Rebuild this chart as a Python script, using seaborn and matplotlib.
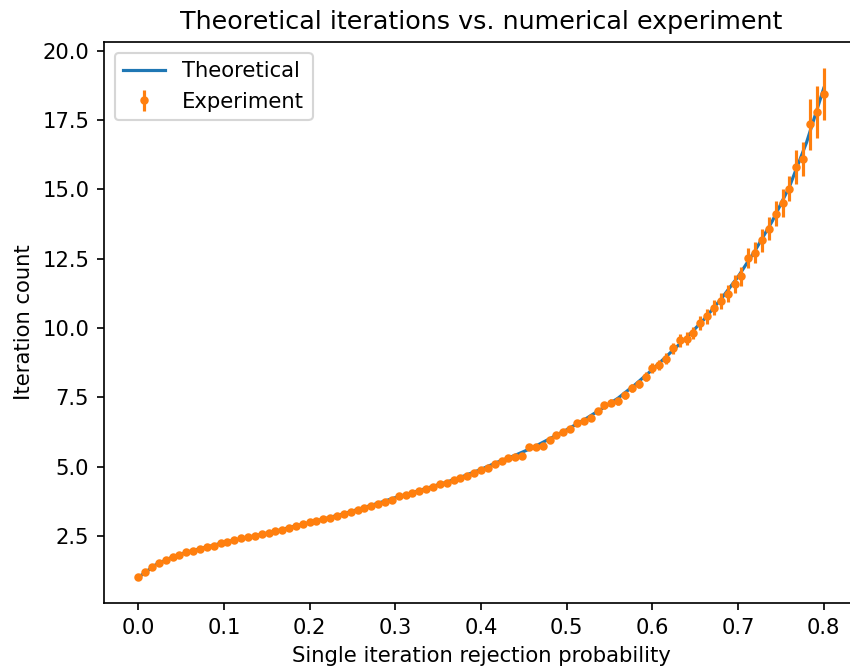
import matplotlib
matplotlib.use("Agg")
import matplotlib.pyplot as plt
import seaborn as sns
import pandas as pd

# Theoretical curve
p_theory = [0.00, 0.02, 0.04, 0.06, 0.08, 0.10, 0.12, 0.14, 0.16, 0.18,
            0.20, 0.22, 0.24, 0.26, 0.28, 0.30, 0.32, 0.34, 0.36, 0.38,
            0.40, 0.42, 0.44, 0.46, 0.48, 0.50, 0.52, 0.54, 0.56, 0.58,
            0.60, 0.62, 0.64, 0.66, 0.68, 0.70, 0.72, 0.74, 0.76, 0.78, 0.80]
iter_theory = [1.00, 1.45, 1.74, 1.94, 2.10, 2.26, 2.40, 2.53, 2.67, 2.83,
               2.98, 3.14, 3.30, 3.49, 3.68, 3.88, 4.06, 4.25, 4.44, 4.66,
               4.90, 5.17, 5.41, 5.68, 6.00, 6.33, 6.68, 7.07, 7.47, 7.96,
               8.50, 9.08, 9.66, 10.30, 11.04, 11.85, 12.80, 13.86, 15.10, 16.70, 18.65]

# Experiment
p_exp = [0.000, 0.008, 0.016, 0.024, 0.032, 0.040, 0.048, 0.056, 0.064, 0.072,
         0.080, 0.088, 0.096, 0.104, 0.112, 0.120, 0.128, 0.136, 0.144, 0.152,
         0.160, 0.168, 0.176, 0.184, 0.192, 0.200, 0.208, 0.216, 0.224, 0.232,
         0.240, 0.248, 0.256, 0.264, 0.272, 0.280, 0.288, 0.296, 0.304, 0.312,
         0.320, 0.328, 0.336, 0.344, 0.352, 0.360, 0.368, 0.376, 0.384, 0.392,
         0.400, 0.408, 0.416, 0.424, 0.432, 0.440, 0.448, 0.456, 0.464, 0.472,
         0.480, 0.488, 0.496, 0.504, 0.512, 0.520, 0.528, 0.536, 0.544, 0.552,
         0.560, 0.568, 0.576, 0.584, 0.592, 0.600, 0.608, 0.616, 0.624, 0.632,
         0.640, 0.648, 0.656, 0.664, 0.672, 0.680, 0.688, 0.696, 0.704, 0.712,
         0.720, 0.728, 0.736, 0.744, 0.752, 0.760, 0.768, 0.776, 0.784, 0.792,
         0.800]
iter_exp = [1.00, 1.19, 1.37, 1.53, 1.64, 1.75, 1.82, 1.91, 1.96, 2.03,
            2.09, 2.15, 2.24, 2.29, 2.35, 2.41, 2.46, 2.51, 2.56, 2.60,
            2.66, 2.72, 2.79, 2.84, 2.92, 2.99, 3.04, 3.10, 3.16, 3.23,
            3.29, 3.36, 3.44, 3.52, 3.59, 3.66, 3.74, 3.81, 3.93, 3.97,
            4.05, 4.11, 4.19, 4.28, 4.36, 4.42, 4.51, 4.59, 4.65, 4.76,
            4.88, 4.95, 5.08, 5.20, 5.31, 5.34, 5.40, 5.69, 5.70, 5.76,
            5.95, 6.15, 6.26, 6.36, 6.58, 6.63, 6.76, 7.00, 7.22, 7.30,
            7.36, 7.57, 7.84, 7.97, 8.25, 8.57, 8.66, 8.90, 9.27, 9.55,
            9.62, 9.82, 10.17, 10.42, 10.74, 10.97, 11.24, 11.60, 11.86, 12.54,
            12.72, 13.16, 13.58, 14.12, 14.52, 15.02, 15.82, 16.10, 17.36, 17.80,
            18.46]
err_exp = [0.002, 0.003, 0.005, 0.006, 0.006, 0.007, 0.008, 0.009, 0.009, 0.010,
           0.010, 0.011, 0.012, 0.013, 0.013, 0.014, 0.015, 0.015, 0.016, 0.016,
           0.017, 0.018, 0.019, 0.019, 0.020, 0.021, 0.022, 0.023, 0.024, 0.025,
           0.026, 0.027, 0.028, 0.030, 0.031, 0.032, 0.034, 0.035, 0.037, 0.038,
           0.039, 0.041, 0.042, 0.044, 0.046, 0.047, 0.049, 0.051, 0.052, 0.054,
           0.057, 0.059, 0.062, 0.065, 0.068, 0.068, 0.070, 0.078, 0.078, 0.080,
           0.085, 0.091, 0.094, 0.097, 0.104, 0.105, 0.110, 0.118, 0.125, 0.128,
           0.130, 0.138, 0.148, 0.152, 0.163, 0.176, 0.180, 0.190, 0.206, 0.219,
           0.222, 0.231, 0.248, 0.261, 0.277, 0.289, 0.303, 0.323, 0.338, 0.360,
           0.380, 0.400, 0.420, 0.450, 0.500, 0.450, 0.620, 0.600, 0.920, 0.950,
           0.940]

W, H, DPI = 850, 672, 152
fig = plt.figure(figsize=(W / DPI, H / DPI), dpi=DPI)
ax = fig.add_axes([104 / W, 1 - 603 / H, (858 - 104) / W, (603 - 42) / H])

theory_df = pd.DataFrame({"p": p_theory, "n": iter_theory})
sns.lineplot(data=theory_df, x="p", y="n", ax=ax, color="#1f77b4",
             linewidth=1.5, label="Theoretical")
ax.errorbar(p_exp, iter_exp, yerr=err_exp, fmt=".", color="#ff7f0e",
            label="Experiment")

ax.set_title("Theoretical iterations vs. numerical experiment")
ax.set_xlabel("Single iteration rejection probability")
ax.set_ylabel("Iteration count")
ax.legend(loc="upper left")

fig.savefig("out.png", dpi=DPI)
